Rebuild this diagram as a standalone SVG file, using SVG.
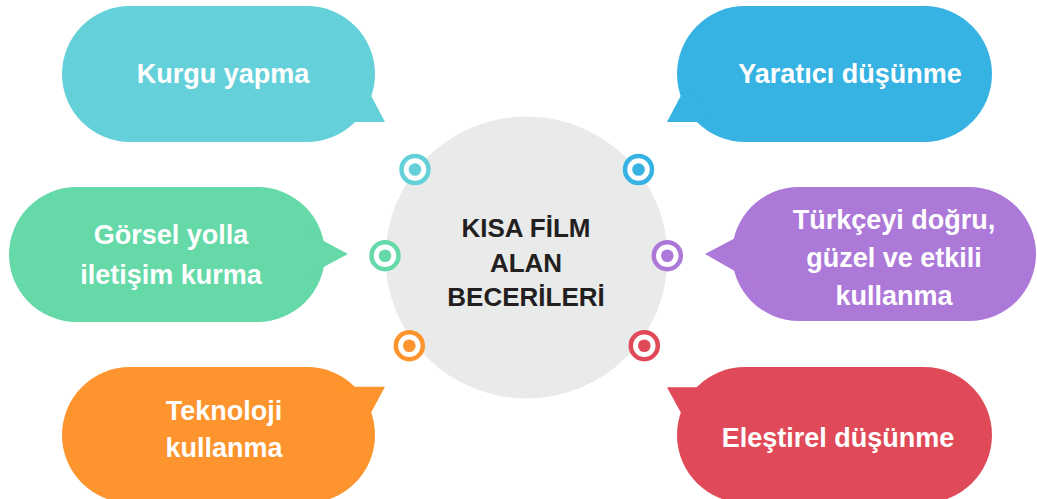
<svg xmlns="http://www.w3.org/2000/svg" width="1037" height="499" viewBox="0 0 1037 499">
<style>
.lbl{font-family:"Liberation Sans",Arial,sans-serif;font-weight:bold;font-size:27px;fill:#ffffff;text-anchor:middle}
.ctr{font-family:"Liberation Sans",Arial,sans-serif;font-weight:bold;font-size:26px;fill:#231f20;text-anchor:middle}
.ring{fill:#ffffff;stroke-width:4.5}
</style>
<rect width="1037" height="499" fill="#ffffff"/>
<g id="center">
<circle cx="526.5" cy="257.5" r="141" fill="#e9eaea"/>
<text class="ctr" x="526" y="236.5">KISA FİLM</text>
<text class="ctr" x="526" y="271.5">ALAN</text>
<text class="ctr" x="526" y="306">BECERİLERİ</text>
</g>
<g id="connectors">
<circle class="ring" cx="415" cy="169.5" r="13.5" stroke="#64d1da"/><circle cx="415" cy="169.5" r="6.3" fill="#64d1da"/>
<circle class="ring" cx="638.5" cy="169.5" r="13.5" stroke="#36b3e3"/><circle cx="638.5" cy="169.5" r="6.3" fill="#36b3e3"/>
<circle class="ring" cx="385" cy="255.7" r="13.5" stroke="#66d9a9"/><circle cx="385" cy="255.7" r="6.3" fill="#66d9a9"/>
<circle class="ring" cx="667.3" cy="255.7" r="13.5" stroke="#ad79d9"/><circle cx="667.3" cy="255.7" r="6.3" fill="#ad79d9"/>
<circle class="ring" cx="409.3" cy="345.7" r="13.5" stroke="#fd942d"/><circle cx="409.3" cy="345.7" r="6.3" fill="#fd942d"/>
<circle class="ring" cx="644.3" cy="345.7" r="13.5" stroke="#e04a58"/><circle cx="644.3" cy="345.7" r="6.3" fill="#e04a58"/>
</g>
<g id="kurgu" fill="#64d1da">
<rect x="62" y="6" width="313" height="136" rx="68"/>
<polygon points="365,84 385,122 340,122"/>
<text class="lbl" x="223" y="83">Kurgu yapma</text>
</g>
<g id="yaratici" fill="#36b3e3">
<rect x="677" y="6" width="315" height="136" rx="68"/>
<polygon points="687,84 667,122 712,122"/>
<text class="lbl" x="850" y="83">Yaratıcı düşünme</text>
</g>
<g id="gorsel" fill="#66d9a9">
<rect x="9" y="187" width="316" height="135" rx="67.5"/>
<polygon points="300,228.5 348,254 300,279.5"/>
<text class="lbl" x="171" y="243.5">Görsel yolla</text>
<text class="lbl" x="171" y="284">iletişim kurma</text>
</g>
<g id="turkce" fill="#ad79d9">
<rect x="732" y="187" width="304" height="134" rx="67"/>
<polygon points="760,225 705,254 760,285.5"/>
<text class="lbl" x="894" y="228.5">Türkçeyi doğru,</text>
<text class="lbl" x="894" y="266.5">güzel ve etkili</text>
<text class="lbl" x="894" y="305">kullanma</text>
</g>
<g id="teknoloji" fill="#fd942d">
<rect x="62" y="367" width="313" height="136" rx="68"/>
<polygon points="340,386.7 385,386.7 365,424"/>
<text class="lbl" x="224" y="420">Teknoloji</text>
<text class="lbl" x="224" y="457">kullanma</text>
</g>
<g id="elestirel" fill="#e04a58">
<rect x="677" y="367" width="315" height="136" rx="68"/>
<polygon points="712,387.3 667,387.3 687,424"/>
<text class="lbl" x="838" y="447">Eleştirel düşünme</text>
</g>
</svg>
